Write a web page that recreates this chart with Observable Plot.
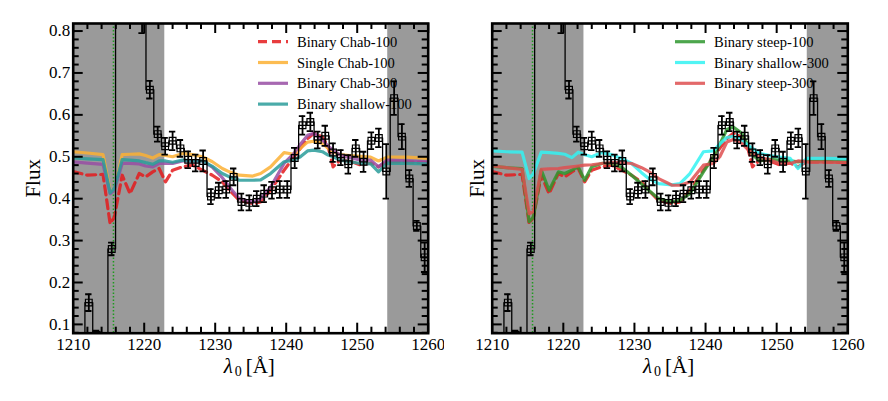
<!DOCTYPE html>
<html><head><meta charset="utf-8">
<script src="https://cdn.jsdelivr.net/npm/d3@7"></script>
<script src="https://cdn.jsdelivr.net/npm/@observablehq/plot@0.6"></script>
<style>
body{margin:0;background:#fff;}
#wrap{display:flex;width:888px;height:401px;overflow:hidden;}
#wrap svg{display:block;flex:none;}
</style></head><body><div id="wrap"></div>
<script>
const obsWave = [1211.1,1212.2,1213.3,1214.35,1215.43,1216.5,1217.6,1218.65,1219.7,1220.8,1221.9,1222.95,1224.0,1225.1,1226.2,1227.25,1228.3,1229.4,1230.5,1231.55,1232.6,1233.7,1234.8,1235.85,1236.9,1238.0,1239.1,1240.15,1241.2,1242.3,1243.4,1244.45,1245.5,1246.6,1247.7,1248.75,1249.8,1250.9,1252.0,1253.05,1254.1,1255.2,1256.3,1257.35,1258.4,1259.5];
const obsFlux = [0.04,0.152,0.075,0.03,0.28,1.2,1.3,1.1,0.87,0.66,0.554,0.525,0.538,0.52,0.493,0.485,0.49,0.405,0.42,0.422,0.452,0.392,0.39,0.40,0.412,0.42,0.422,0.422,0.497,0.575,0.583,0.54,0.55,0.51,0.498,0.482,0.52,0.488,0.538,0.545,0.465,0.64,0.548,0.448,0.335,0.26];
const obsErr = [0.01,0.02,0.01,0.01,0.015,0.1,0.1,0.1,0.075,0.021,0.018,0.02,0.022,0.02,0.02,0.02,0.025,0.018,0.018,0.02,0.02,0.02,0.018,0.018,0.02,0.02,0.02,0.02,0.024,0.022,0.022,0.02,0.024,0.022,0.018,0.022,0.02,0.024,0.02,0.022,0.065,0.04,0.03,0.02,0.012,0.035];
const modelWave = [1210,1212,1214.2,1215.2,1215.8,1216.9,1218.0,1219.3,1220.2,1221.2,1222.1,1223.0,1224.0,1225.4,1226.8,1228.2,1229.6,1231.0,1232.0,1233.4,1235.3,1236.4,1237.8,1239.7,1241.1,1242.0,1243.0,1243.9,1245.1,1245.9,1246.6,1247.6,1249.0,1250.5,1251.9,1253.0,1254.2,1257.0,1260];
const binaryChab100 = [0.465,0.456,0.458,0.34,0.356,0.456,0.412,0.46,0.452,0.464,0.472,0.44,0.468,0.476,0.48,0.468,0.456,0.44,0.42,0.396,0.388,0.392,0.42,0.468,0.5,0.52,0.543,0.556,0.547,0.524,0.476,0.492,0.49,0.48,0.485,0.476,0.488,0.488,0.486];
const singleChab100 = [0.512,0.509,0.505,0.418,0.42,0.505,0.506,0.507,0.503,0.497,0.505,0.503,0.50,0.508,0.505,0.50,0.488,0.472,0.464,0.456,0.454,0.46,0.476,0.51,0.506,0.52,0.535,0.537,0.532,0.52,0.512,0.505,0.503,0.501,0.499,0.49,0.499,0.499,0.496];
const binaryChab300 = [0.488,0.485,0.482,0.412,0.42,0.484,0.484,0.483,0.478,0.476,0.484,0.485,0.484,0.49,0.49,0.49,0.475,0.45,0.428,0.40,0.392,0.40,0.428,0.484,0.508,0.53,0.551,0.556,0.54,0.525,0.516,0.504,0.498,0.492,0.492,0.476,0.492,0.49,0.488];
const binaryShallow100 = [0.497,0.495,0.493,0.414,0.424,0.493,0.492,0.49,0.486,0.482,0.49,0.49,0.487,0.492,0.49,0.49,0.477,0.46,0.452,0.444,0.444,0.445,0.46,0.488,0.492,0.5,0.514,0.516,0.512,0.504,0.5,0.492,0.488,0.484,0.483,0.464,0.485,0.484,0.483];
const binarySteep100 = [0.477,0.474,0.472,0.345,0.356,0.468,0.42,0.464,0.46,0.468,0.476,0.444,0.476,0.484,0.484,0.475,0.456,0.435,0.42,0.40,0.392,0.396,0.412,0.464,0.5,0.53,0.565,0.571,0.556,0.53,0.505,0.49,0.494,0.492,0.49,0.488,0.49,0.49,0.489];
const binaryShallow300 = [0.514,0.512,0.511,0.448,0.46,0.511,0.51,0.508,0.506,0.498,0.511,0.505,0.50,0.51,0.505,0.496,0.484,0.462,0.448,0.436,0.433,0.436,0.46,0.512,0.514,0.53,0.546,0.549,0.54,0.528,0.52,0.508,0.503,0.499,0.496,0.472,0.496,0.496,0.495];
const binarySteep300 = [0.478,0.474,0.47,0.364,0.37,0.47,0.471,0.472,0.474,0.476,0.478,0.48,0.481,0.484,0.486,0.486,0.484,0.474,0.465,0.448,0.432,0.432,0.44,0.48,0.484,0.5,0.535,0.541,0.532,0.518,0.51,0.5,0.492,0.484,0.484,0.49,0.488,0.487,0.486];
const maskStart = [1210, 1254.3];
const maskEnd = [1222.9, 1260];
const lyaWave = [1215.67];
const xMajor = [1210,1220,1230,1240,1250,1260];
const xMinor = [1212,1214,1216,1218,1222,1224,1226,1228,1232,1234,1236,1238,1242,1244,1246,1248,1252,1254,1256,1258];
const yMajor = [0.1,0.2,0.3,0.4,0.5,0.6,0.7,0.8];
const yMinor = [0.08,0.12,0.14,0.16,0.18,0.22,0.24,0.26,0.28,0.32,0.34,0.36,0.38,0.42,0.44,0.46,0.48,0.52,0.54,0.56,0.58,0.62,0.64,0.66,0.68,0.72,0.74,0.76,0.78];

const FONT = "'Liberation Serif','DejaVu Serif',serif";
const X_DOMAIN = [1210,1260], Y_DOMAIN = [0.079,0.818];
const obs = obsWave.map((x,i)=>({x, f:obsFlux[i], e:obsErr[i]}));
const masks = maskStart.map((s,i)=>({x1:s, x2:maskEnd[i]}));

function modelMark(m){
  const rows = modelWave.map((x,i)=>({x, y:m.values[i]}));
  return Plot.line(rows, {x:"x", y:"y", stroke:m.color, strokeWidth:3.2, strokeOpacity:0.85, strokeDasharray:m.dash||null, clip:true});
}

function panel({models, legend, ml, mr, showY, fluxDx, legendX}){
  const W = 444, H = 401, MT = 23, MB = 68.3;
  const FW = W - ml - mr, FH = H - MT - MB;
  const dyU = (Y_DOMAIN[1]-Y_DOMAIN[0])/FH, dxU = (X_DOMAIN[1]-X_DOMAIN[0])/FW; // data units per pixel
  const tk = {stroke:"black", strokeWidth:2};
  const marks = [
    Plot.rect(masks, {x1:"x1", x2:"x2", fill:"#9a9a9a"}),
    Plot.ruleX(lyaWave, {stroke:"#1e9a1e", strokeWidth:1.5, strokeDasharray:"1.5,2"}),
    ...models.map(modelMark),
    Plot.line(obs, {x:"x", y:"f", curve:"step", stroke:"black", strokeWidth:1.3, clip:true}),
    Plot.ruleX(obs, {x:"x", y1:d=>d.f-d.e, y2:d=>d.f+d.e, stroke:"black", strokeWidth:1.8, clip:true}),
    Plot.ruleY(obs, {y:d=>d.f+d.e, x1:d=>d.x-0.45, x2:d=>d.x+0.45, stroke:"black", strokeWidth:1.8, clip:true}),
    Plot.ruleY(obs, {y:d=>d.f-d.e, x1:d=>d.x-0.45, x2:d=>d.x+0.45, stroke:"black", strokeWidth:1.8, clip:true}),
    Plot.dot(obs, {x:"x", y:"f", symbol:"square", r:3.8, stroke:"black", strokeWidth:1.2, fill:"none", clip:true}),
    // inward ticks on all four sides
    Plot.ruleX(xMinor, {x:d=>d, y1:Y_DOMAIN[0], y2:Y_DOMAIN[0]+6*dyU, ...tk}),
    Plot.ruleX(xMinor, {x:d=>d, y1:Y_DOMAIN[1], y2:Y_DOMAIN[1]-6*dyU, ...tk}),
    Plot.ruleX(xMajor, {x:d=>d, y1:Y_DOMAIN[0], y2:Y_DOMAIN[0]+10*dyU, ...tk}),
    Plot.ruleX(xMajor, {x:d=>d, y1:Y_DOMAIN[1], y2:Y_DOMAIN[1]-10*dyU, ...tk}),
    Plot.ruleY(yMinor, {y:d=>d, x1:X_DOMAIN[0], x2:X_DOMAIN[0]+6*dxU, ...tk}),
    Plot.ruleY(yMinor, {y:d=>d, x1:X_DOMAIN[1], x2:X_DOMAIN[1]-6*dxU, ...tk}),
    Plot.ruleY(yMajor, {y:d=>d, x1:X_DOMAIN[0], x2:X_DOMAIN[0]+10*dxU, ...tk}),
    Plot.ruleY(yMajor, {y:d=>d, x1:X_DOMAIN[1], x2:X_DOMAIN[1]-10*dxU, ...tk}),
    Plot.frame({stroke:"black", strokeWidth:2.6}),
    Plot.axisX({anchor:"bottom", ticks:xMajor, tickSize:0, tickPadding:5, tickFormat:d=>String(d), fontSize:17, fontFamily:FONT, label:null}),
    ...(showY ? [Plot.axisY({anchor:"left", ticks:yMajor, tickSize:0, tickPadding:3, tickFormat:d3.format(".1f"), fontSize:17, fontFamily:FONT, label:null})] : []),
    Plot.text(["Flux"], {frameAnchor:"left", dx:fluxDx, rotate:-90, fontSize:21, fontFamily:FONT, fill:"black", textAnchor:"middle", lineAnchor:"middle"}),
    Plot.text(["λ"], {frameAnchor:"bottom", dx:-27, dy:33, fontSize:21, fontStyle:"italic", fontFamily:FONT, fill:"black", textAnchor:"start", lineAnchor:"middle"}),
    Plot.text(["0"], {frameAnchor:"bottom", dx:-16, dy:38, fontSize:14, fontFamily:FONT, fill:"black", textAnchor:"start", lineAnchor:"middle"}),
    Plot.text(["[Å]"], {frameAnchor:"bottom", dx:-5, dy:33, fontSize:21, fontFamily:FONT, fill:"black", textAnchor:"start", lineAnchor:"middle"})
  ];
  const svg = Plot.plot({
    width:W, height:H,
    marginLeft:ml, marginRight:mr, marginTop:MT, marginBottom:MB,
    x:{domain:X_DOMAIN, label:null, axis:null},
    y:{domain:Y_DOMAIN, label:null, axis:null},
    style:{fontFamily:FONT, background:"white", color:"black", overflow:"visible"},
    marks
  });
  const g = d3.select(svg).append("g").attr("font-family", FONT).attr("font-size", 14.5).attr("text-anchor","start");
  legend.forEach((m,i)=>{
    const y = 41.7 + i*20.8;
    g.append("line").attr("x1", legendX).attr("x2", legendX+30).attr("y1", y).attr("y2", y)
      .attr("stroke", m.color).attr("stroke-width", 3.2).attr("stroke-opacity", 0.85)
      .attr("stroke-dasharray", m.dash||null);
    g.append("text").attr("x", legendX+39).attr("y", y).attr("dy","0.35em").attr("fill","black").attr("text-anchor","start").text(m.name);
  });
  return svg;
}

const mChab100 = {name:"Binary Chab-100", values:binaryChab100, color:"#e41a1c", dash:"9,5"};
const mSingle = {name:"Single Chab-100", values:singleChab100, color:"#fbb034"};
const mChab300 = {name:"Binary Chab-300", values:binaryChab300, color:"#984ea3"};
const mShal100 = {name:"Binary shallow-100", values:binaryShallow100, color:"#2a9c9a"};
const mSteep100 = {name:"Binary steep-100", values:binarySteep100, color:"#2e962e"};
const mShal300 = {name:"Binary shallow-300", values:binaryShallow300, color:"#33f2f2"};
const mSteep300 = {name:"Binary steep-300", values:binarySteep300, color:"#de4f50"};

const wrap = document.getElementById("wrap");
wrap.appendChild(panel({models:[mChab100,mSingle,mChab300,mShal100], legend:[mChab100,mSingle,mChab300,mShal100], ml:72.7, mr:16.3, showY:true, fluxDx:-40, legendX:258}));
wrap.appendChild(panel({models:[mChab100,mSteep100,mShal300,mSteep300], legend:[mSteep100,mShal300,mSteep300], ml:47.7, mr:40.7, showY:false, fluxDx:-15, legendX:231}));
</script></body></html>
